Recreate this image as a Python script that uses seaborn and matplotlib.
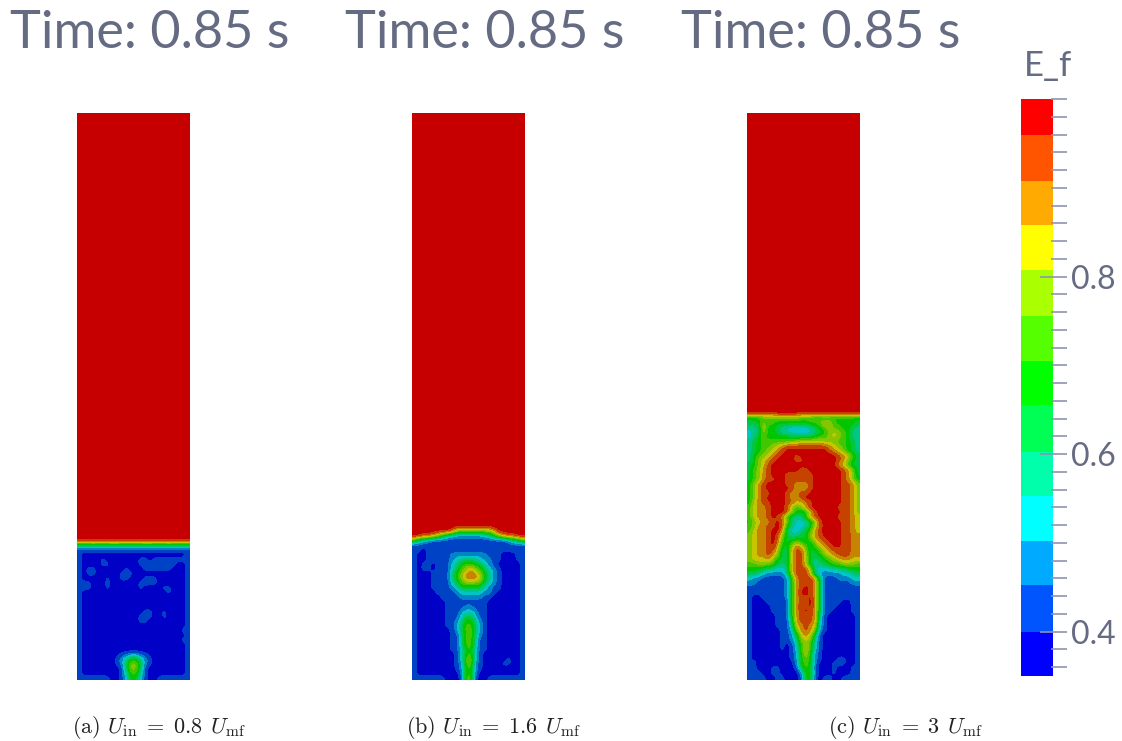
import numpy as np
import matplotlib
matplotlib.use("Agg")
import matplotlib.pyplot as plt
from matplotlib.colors import ListedColormap
from matplotlib.ticker import FixedLocator
import seaborn as sns

# E_f band colours of the colour bar, lowest value first
BAND_COLORS = ["#0000ff", "#0055ff", "#00aaff", "#00ffff", "#00ffaa", "#00ff55", "#00ff00",
               "#55ff00", "#aaff00", "#ffff00", "#ffaa00", "#ff5500", "#ff0000"]
# height of each band on the colour bar (screen rows), lowest value first
BAND_HEIGHTS = [44, 47, 44, 45, 44, 47, 45, 45, 46, 45, 44, 46, 36]
MAJOR_TICKS = [0.4, 0.6, 0.8]
MINOR_TICKS = [0.36, 0.38, 0.42, 0.44, 0.46, 0.48, 0.5, 0.52, 0.54, 0.56, 0.58, 0.62, 0.64, 0.66,
               0.68, 0.7, 0.72, 0.74, 0.76, 0.78, 0.82, 0.84, 0.86, 0.88, 0.9, 0.92, 0.94, 0.96, 0.98, 1.0]
TITLE = "Time: 0.85 s"
CAPTIONS = [r"(a) $U_{\mathrm{in}}\;=\;\mathrm{0.8}\;\,U_{\mathrm{mf}}$",
            r"(b) $U_{\mathrm{in}}\;=\;\mathrm{1.6}\;\,U_{\mathrm{mf}}$",
            r"(c) $U_{\mathrm{in}}\;=\;\mathrm{3}\;\,U_{\mathrm{mf}}$"]

# Each field: one character per cell, hex band index (0 = blue ... c = red), top row first
FIELD_A = ["c" * 24] * 91 + [
    "444544455444445544454444", "111111111111111111111111", "100000000000000000000001",
    "100001000000011011111111", "100001100000011111111001", "101100000010001111110001",
    "101100000111000000000001", "100000100110001110000001", "111000100000011110000001",
    "111000100000010000110001", "100000000000000000010001", "100000100100000000000001",
    "100010000000000000000001", "100000000000000000000001", "100000000000001100100001",
    "100010000000011100100001", "100001000000011000010001", "100000000000000000000001",
    "100000000100000000000011", "100000000000000000000001", "100000000000000000000011",
    "100000000000000000000001", "100000000000000000000001", "100000000112211000000001",
    "100000001246642100000001", "100000001258852100000001", "100000000158851000000001",
    "100000000147741000000001", "111111100136631001111111"]

FIELD_B = ["c" * 24] * 88 + [
    "ccccccccb88888888acccccc", "ccbba86432222223468abbcc", "743211111111111111112457",
    "111111111111111111111111", "110111111111111111011111", "100111112222222211100011",
    "100111112344443221100011", "101101113467765321000001", "101101113578a87532100001",
    "10001111468aaa8642100001", "10001111468aaa9642100001", "100011113578887532100001",
    "100011112355555321100001", "100001111233333221000001", "100000111122222110000001",
    "100000011111111100000001", "100000011112211100000001", "100000011123321100000001",
    "100100011135531100000001", "100000011246642100000001", "100000011257752100000001",
    "100000001257752100000001", "100000001147842100000001", "100000001147741100000001",
    "100000001147741100000001", "100000001136731100000101", "100000000136731000000001",
    "100000000137831000001001", "100000000127821000011001", "100000000126721000000001",
    "100000000026720000000001", "111111100017710011111111"]

FIELD_C = ["c" * 24] * 64 + [
    "666777888887776666666666", "556877666666677899766665", "445966544333345688776654",
    "344966543333334568987644", "346766666555556778987644", "456777777889999988877654",
    "4567789abbbbbbbbba987654", "456789abcccccccccba98654", "46789abcccbccccccccba975".replace("ccba975", "ccba975"),
    "4689abccccbbcccccccba865".replace("cba865", "cba865"), "5689bcccccccccccccca975".ljust(24, "5"),
    "578abccccccbbccccccccba85"[:20] + "ba85", "578abcccbbbbbbcccccc" + "ba85", "578abbccbbbbbbcccccc" + "ba86",
    "68abccccbbaaabccccccbba8", "68abccccbbaaabccccccbba8".replace("bbaaab", "cbaaab"),
    "68abbcccbaabbccccccc" + "bba8", "68abccccbaabcccccccc" + "bba8",
    "69abbcccbb99abcccccc" + "bba8", "79aabcccb878accccccb" + "bba8"[:4], "79aabcccb96569bccccc" + "bba8",
    "79aabcba74447abccccb" + "bba9", "689aabcb8533358bcccc" + "bba9",
    "78aabbcb6433469bcccc" + "bba9", "79aabcca533457abcccc" + "bba9", "89aabcb8544568abcccc" + "bbaa",
    "89aabcb75676579abccc" + "bbaa", "89aabca658a97579abcc" + "bbaa", "89aabb955 9bb85 679abb".replace(" ", "") + "bbaa",
    "89aaba8559bb955689ab" + "bbaa", "8999a86559bb95456789" + "aa99", "77888754 59bb9544 5677 8887".replace(" ", ""),
    "6665443349bbb94333445566", "5543222249bcb94222223345", "322111112 6abcba5 11122233".replace(" ", ""),
    "221111112 6abbca5 11111122".replace(" ", ""), "111011112 6abcba5 11111111".replace(" ", ""),
    "111111112 6accba5 11111111".replace(" ", ""), "100111112 6abbca5 11111111".replace(" ", ""),
    "100011111 6abbca5 11110011".replace(" ", ""), "100001111 6acbca5 11100011".replace(" ", ""),
    "100001111 6abcba5 11000011".replace(" ", ""), "100000111 6abbba4 10000001".replace(" ", ""),
    "100000111 5abbba3 10000001".replace(" ", ""), "100000111 49aba93 10000001".replace(" ", ""),
    "101000011 38aba82 10000001".replace(" ", ""), "10000001 1259a951 00000001".replace(" ", ""),
    "10000001 12489841 00000001".replace(" ", ""), "10000001 01378731 00000001".replace(" ", ""),
    "10000001 01379731 00000001".replace(" ", ""), "10000000 01269621 00000001".replace(" ", ""),
    "10100000 01268621 00011001".replace(" ", ""), "11000000 00267620 00111001".replace(" ", ""),
    "11000110 00157610 00100011".replace(" ", ""), "11100110 00026620 00100011".replace(" ", ""),
    "11110011 00016610 11001111".replace(" ", "")]

FIELDS = [FIELD_A, FIELD_B, FIELD_C]
PANEL_LEFT = [77, 412, 747]
TITLE_X = [10, 345, 681]
CAPTION_X = [72, 406, 828]

W, H = 1122, 741
TEXT_COLOR = "#656b82"
TICK_COLOR = "#8d94b0"
SHADE = 0.78


def rect(x0, y0, x1, y1):
    return [x0 / W, 1 - y1 / H, (x1 - x0) / W, (y1 - y0) / H]


sns.set_theme(style="white")
plt.rcParams["font.family"] = ["Lato", "DejaVu Sans"]
plt.rcParams["mathtext.fontset"] = "cm"

fig = plt.figure(figsize=(W / 100, H / 100), dpi=100, facecolor="white")
field_colors = [tuple(SHADE * c for c in matplotlib.colors.to_rgb(b)) for b in BAND_COLORS]
field_cmap = ListedColormap(field_colors)

for field, left, tx, cx, cap in zip(FIELDS, PANEL_LEFT, TITLE_X, CAPTION_X, CAPTIONS):
    grid = np.array([[int(ch, 16) + 0.5 for ch in row[:24].ljust(24, row[-1])] for row in field])
    ax = fig.add_axes(rect(left, 113, left + 113, 680))
    sns.heatmap(grid, ax=ax, cmap=field_cmap, vmin=0, vmax=13, cbar=False,
                xticklabels=False, yticklabels=False)
    ax.imshow(grid, cmap=field_cmap, vmin=0, vmax=13, interpolation="bicubic",
              interpolation_stage="data", extent=(0, 24, 120, 0), aspect="auto", zorder=2)
    ax.set_xlim(0, 24)
    ax.set_ylim(120, 0)
    ax.axis("off")
    fig.text(tx / W, 1 - 48 / H, TITLE, fontsize=37.6, color=TEXT_COLOR, va="baseline", ha="left")
    fig.text(cx / W, 1 - 733 / H, cap, fontsize=16, color="#222222", va="baseline", ha="left",
             family=["cmr10", "DejaVu Serif"])

# colour bar
bar = np.repeat(np.arange(len(BAND_COLORS)), BAND_HEIGHTS)[::-1].reshape(-1, 1)
cax = fig.add_axes(rect(1021, 99, 1053, 676))
sns.heatmap(bar, ax=cax, cmap=ListedColormap(BAND_COLORS), vmin=0, vmax=len(BAND_COLORS) - 1,
            cbar=False, xticklabels=False, yticklabels=False)
cax.axis("off")

tax = fig.add_axes(rect(1021, 99, 1067, 676), facecolor="none")
tax.set_ylim(0.35, 1.0)
tax.set_xticks([])
for s in tax.spines.values():
    s.set_visible(False)
tax.yaxis.tick_right()
tax.yaxis.set_major_locator(FixedLocator(MAJOR_TICKS))
tax.yaxis.set_minor_locator(FixedLocator(MINOR_TICKS))
tax.set_yticklabels([f"{v:.1f}" for v in MAJOR_TICKS])
tax.tick_params(axis="y", which="major", direction="in", length=19.5, width=1.2, color=TICK_COLOR,
                labelsize=23, labelcolor=TEXT_COLOR, pad=3, left=False, right=True)
tax.tick_params(axis="y", which="minor", direction="in", length=11.5, width=1.2, color=TICK_COLOR,
                left=False, right=True)
fig.text(1024 / W, 1 - 66 / H, "E_f", fontsize=25, color=TEXT_COLOR, va="center", ha="left")

fig.savefig("out.png", dpi=100, facecolor="white")
